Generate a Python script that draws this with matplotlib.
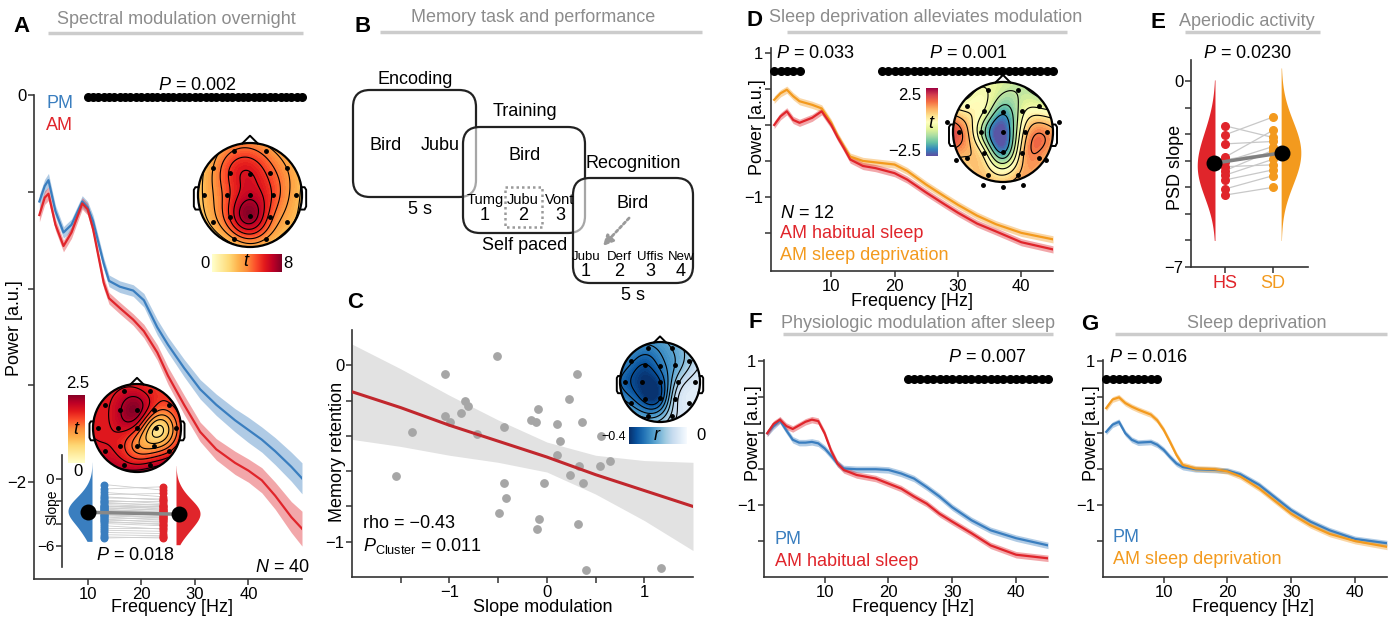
import numpy as np
import matplotlib
matplotlib.use('Agg')
import matplotlib.pyplot as plt
from matplotlib.patches import Circle, FancyBboxPatch, Rectangle

plt.rcParams['font.family'] = ['Liberation Sans', 'DejaVu Sans']
plt.rcParams['mathtext.fontset'] = 'custom'
plt.rcParams['mathtext.rm'] = 'Liberation Sans'
plt.rcParams['mathtext.it'] = 'Liberation Sans:italic'
plt.rcParams['contour.negative_linestyle'] = 'solid'

BLUE = '#3a7ebf'
RED = '#e0252b'
ORANGE = '#f39a1e'
GREY_T = '#8c8c8c'

# ---- data: panel A (PSD overnight, N = 40)
A_freq = [1, 2, 2.7, 4, 5.5, 7, 9, 10, 11, 12, 13, 14, 16, 18.5, 20.5, 23, 25, 28, 31, 34, 37.5, 40, 42.5, 45, 48, 50]
A_pm = [-0.55, -0.47, -0.44, -0.60, -0.71, -0.67, -0.55, -0.58, -0.65, -0.76, -0.87, -0.96, -0.99, -1.01, -1.06,
        -1.20, -1.29, -1.41, -1.52, -1.60, -1.68, -1.73, -1.78, -1.84, -1.92, -1.98]
A_am = [-0.62, -0.53, -0.51, -0.67, -0.78, -0.71, -0.56, -0.59, -0.69, -0.83, -0.97, -1.05, -1.10, -1.16, -1.22,
        -1.33, -1.45, -1.60, -1.74, -1.83, -1.90, -1.94, -1.99, -2.07, -2.18, -2.24]
A_pm_se = [0.035, 0.035, 0.035, 0.03, 0.03, 0.03, 0.03, 0.03, 0.03, 0.03, 0.03, 0.03, 0.03, 0.03, 0.035,
           0.04, 0.04, 0.045, 0.05, 0.055, 0.06, 0.065, 0.065, 0.07, 0.075, 0.08]
A_am_se = [0.035, 0.035, 0.035, 0.03, 0.03, 0.03, 0.03, 0.03, 0.03, 0.03, 0.03, 0.03, 0.03, 0.03, 0.035,
           0.04, 0.045, 0.05, 0.05, 0.055, 0.06, 0.06, 0.065, 0.07, 0.08, 0.09]
A_cluster = (10, 50)
A_slope_pm = [-0.5, -0.9, -1.2, -1.4, -1.6, -1.7, -1.9, -2.0, -2.1, -2.2, -2.3, -2.4, -2.4, -2.5, -2.6, -2.6,
              -2.7, -2.8, -2.8, -2.9, -3.0, -3.0, -3.1, -3.2, -3.2, -3.3, -3.4, -3.5, -3.6, -3.7, -3.8, -3.9,
              -4.0, -4.2, -4.4, -4.6, -4.8, -5.0, -5.2, -5.3]
A_slope_am = [-1.0, -0.7, -1.6, -1.3, -1.9, -1.8, -2.2, -2.0, -2.4, -2.3, -2.5, -2.4, -2.7, -2.6, -2.8, -2.8,
              -3.0, -2.9, -3.1, -3.0, -3.2, -3.3, -3.2, -3.5, -3.4, -3.5, -3.7, -3.6, -3.9, -3.8, -4.1, -4.0,
              -4.2, -4.5, -4.4, -4.7, -4.9, -5.1, -5.3, -5.2]

# ---- topography electrodes (unit head circle) and t / r values
EL_X = [-0.3, 0.3, -0.72, -0.38, 0, 0.38, 0.72, -0.88, -0.44, 0, 0.44, 0.88, -0.72, -0.38, 0, 0.38, 0.72, -0.3, 0.3]
EL_Y = [0.85, 0.85, 0.52, 0.42, 0.4, 0.42, 0.52, 0, 0, 0, 0, 0, -0.52, -0.42, -0.4, -0.42, -0.52, -0.85, -0.85]
topo_A1 = [4.5, 4.0, 3.5, 5.5, 6.3, 5.0, 3.5, 2.8, 5.0, 6.8, 5.2, 3.0, 3.0, 5.5, 7.8, 5.0, 3.0, 3.5, 3.5]
topo_A2 = [2.0, 1.8, 1.9, 2.2, 2.4, 1.6, 1.6, 1.9, 2.0, 1.7, 0.5, 1.3, 2.0, 1.8, 1.2, 1.0, 1.6, 2.1, 2.1]
topo_C = [-0.28, -0.22, -0.30, -0.36, -0.30, -0.22, -0.15, -0.33, -0.40, -0.36, -0.15, -0.06, -0.28, -0.38,
          -0.36, -0.12, -0.05, -0.24, -0.12]
topo_D = [-0.3, -0.8, 0.0, -0.3, -1.8, -0.5, -0.4, 1.6, -0.8, -2.6, 0.5, 1.2, 0.8, 0.0, -2.0, 0.6, 1.2, 0.6, 0.8]

# ---- panel C (retention vs slope modulation)
C_x = [-0.51, -1.05, 0.31, -0.84, -0.81, 0.23, -0.09, -1.05, -0.99, -0.88, -0.16, -0.11, 0.36, -0.44, 0.10,
       -1.38, -0.72, 0.14, 0.56, 0.10, 0.33, 0.55, 0.65, -1.55, 0.24, -0.44, -0.03, 0.37, -0.42, -0.49, -0.08,
       -0.10, 0.32, 0.40, 1.17]
C_y = [0.05, -0.05, -0.05, -0.20, -0.23, -0.19, -0.25, -0.29, -0.32, -0.27, -0.31, -0.32, -0.32, -0.35, -0.33,
       -0.38, -0.39, -0.43, -0.40, -0.51, -0.57, -0.57, -0.54, -0.63, -0.62, -0.67, -0.67, -0.67, -0.75, -0.84,
       -0.87, -0.93, -0.90, -1.16, -1.15]
C_fit_x = [-2.0, -1.5, -1.0, -0.5, 0.0, 0.5, 1.0, 1.5]
C_fit_y = [-0.15, -0.24, -0.34, -0.43, -0.52, -0.62, -0.71, -0.80]
C_ci_hw = [0.27, 0.22, 0.17, 0.12, 0.085, 0.11, 0.17, 0.25]

# ---- panel D (AM habitual sleep vs AM sleep deprivation, N = 12)
D_freq = [1, 2, 3, 4, 5, 7, 8.5, 10, 11, 12, 13, 15, 17, 20, 22, 25, 28, 30, 33, 36, 40, 45]
D_sd = [0.35, 0.44, 0.49, 0.40, 0.33, 0.28, 0.23, 0.03, -0.15, -0.30, -0.44, -0.50, -0.52, -0.55, -0.64, -0.83,
        -1.00, -1.11, -1.26, -1.38, -1.50, -1.59]
D_hs = [0.0, 0.12, 0.19, 0.07, 0.03, 0.10, 0.19, 0.0, -0.17, -0.32, -0.48, -0.57, -0.60, -0.67, -0.76, -0.94,
        -1.11, -1.22, -1.37, -1.48, -1.63, -1.73]
D_se = 0.05
D_clusters = [(1, 5), (18, 45)]

# ---- panel E (PSD slope)
E_hs = [-1.68, -2.02, -2.36, -2.86, -2.95, -3.03, -3.22, -3.37, -3.54, -3.72, -4.06, -4.29]
E_sd = [-2.12, -1.35, -2.27, -1.85, -2.71, -2.46, -3.15, -2.60, -2.94, -3.34, -3.56, -4.00]

# ---- panel F (PM vs AM habitual sleep)
F_freq = [1, 2, 3, 4, 5, 6, 7, 8, 9, 10, 11, 12, 13, 15, 18, 20, 22, 24, 26, 28, 30, 33, 36, 40, 45]
F_pm = [0.0, 0.10, 0.18, 0.04, -0.09, -0.13, -0.13, -0.12, -0.14, -0.21, -0.31, -0.42, -0.49, -0.50, -0.50,
        -0.51, -0.56, -0.63, -0.75, -0.88, -1.03, -1.21, -1.35, -1.46, -1.56]
F_am = [0.0, 0.13, 0.19, 0.10, 0.06, 0.11, 0.16, 0.19, 0.17, 0.0, -0.24, -0.42, -0.51, -0.58, -0.63, -0.70,
        -0.77, -0.88, -0.98, -1.12, -1.23, -1.39, -1.56, -1.69, -1.74]
F_se = 0.045
F_clusters = [(23, 45)]

# ---- panel G (PM vs AM sleep deprivation)
G_freq = [1, 2, 3, 4, 5, 6, 8, 9, 10, 11, 12, 13, 15, 18, 20, 22, 25, 28, 30, 33, 36, 40, 45]
G_sd = [0.35, 0.47, 0.50, 0.42, 0.37, 0.33, 0.26, 0.18, 0.05, -0.12, -0.30, -0.44, -0.49, -0.50, -0.53, -0.60,
        -0.77, -0.98, -1.12, -1.28, -1.40, -1.50, -1.58]
G_pm = [0.02, 0.12, 0.16, 0.0, -0.09, -0.13, -0.12, -0.16, -0.23, -0.33, -0.42, -0.47, -0.50, -0.51, -0.52,
        -0.57, -0.72, -0.93, -1.07, -1.23, -1.35, -1.47, -1.53]
G_se = 0.04
G_clusters = [(1, 9)]

W, H = 1393, 617
fig = plt.figure(figsize=(W / 100, H / 100), dpi=100)


def px_ax(x0, y0, x1, y1):
    return fig.add_axes([x0 / W, 1 - y1 / H, (x1 - x0) / W, (y1 - y0) / H])


def style(ax, size=12):
    for s in ['top', 'right']:
        ax.spines[s].set_visible(False)
    for s in ['left', 'bottom']:
        ax.spines[s].set_linewidth(1.2)
        ax.spines[s].set_color('#333333')
    ax.tick_params(direction='out', length=4, width=1.1, labelsize=size, color='#333333', pad=1.5)
    ax.patch.set_alpha(0)


def curve(ax, f, m, se, color):
    f, m, se = np.asarray(f), np.asarray(m), np.asarray(se)
    ax.fill_between(f, m - se, m + se, color=color, alpha=0.4, lw=0)
    ax.plot(f, m, color=color, lw=1.6)


def sig_dots(ax, clusters, y):
    for a, b in clusters:
        fr = np.arange(a, b + 0.01, 1.0)
        ax.scatter(fr, np.full(len(fr), y), s=30, color='k', zorder=5, clip_on=False)


def half_violin(ax, vals, pos, width, side, color, lo, hi, bw):
    y = np.linspace(lo, hi, 200)
    v = np.asarray(vals)
    k = np.exp(-0.5 * ((y[:, None] - v[None, :]) / bw) ** 2).sum(1)
    k = k / k.max() * width
    if side < 0:
        ax.fill_betweenx(y, pos - k, pos, color=color, lw=0)
    else:
        ax.fill_betweenx(y, pos, pos + k, color=color, lw=0)


def topomap(cx, cy, r, vals, cmap, vmin, vmax, extra=None):
    s = r * 1.3
    ax = px_ax(cx - s, cy - s, cx + s, cy + s)
    ax.set_xlim(-1.3, 1.3)
    ax.set_ylim(-1.3, 1.3)
    ax.axis('off')
    ex, ey = np.asarray(EL_X), np.asarray(EL_Y)
    v = np.asarray(vals, float)
    m = v.mean()
    d = np.hypot(ex[:, None] - ex[None, :], ey[:, None] - ey[None, :])
    w = np.linalg.solve(np.sqrt(1 + (d / 0.5) ** 2), v - m)
    g = np.linspace(-1.02, 1.02, 121)
    gx, gy = np.meshgrid(g, g)
    dg = np.hypot(gx[..., None] - ex, gy[..., None] - ey)
    z = np.clip(np.sqrt(1 + (dg / 0.5) ** 2) @ w + m, vmin, vmax)
    circ = Circle((0, 0), 1, transform=ax.transData)
    cf = ax.contourf(gx, gy, z, levels=np.linspace(vmin, vmax, 41), cmap=cmap)
    cl = ax.contour(gx, gy, z, levels=np.linspace(vmin, vmax, 10)[1:-1], colors='k', linewidths=0.8,
                    linestyles='solid')
    cf.set_clip_path(circ)
    cl.set_clip_path(circ)
    ax.add_patch(Circle((0, 0), 1, fc='none', ec='k', lw=1.6))
    ax.plot([-0.15, 0, 0.15], [0.99, 1.14, 0.99], color='k', lw=1.4)
    for sx in (-1, 1):
        ax.plot(sx * np.array([0.99, 1.05, 1.08, 1.08, 1.05, 0.99]), [0.15, 0.15, 0.1, -0.22, -0.28, -0.28],
                color='k', lw=1.4)
    ax.plot(ex, ey, 'k.', ms=5)
    if extra is not None:
        ax.plot(extra[0], extra[1], 'k.', ms=5, clip_on=False)
    return ax


def cbar(x0, y0, x1, y1, cmap, vertical=False):
    cax = px_ax(x0, y0, x1, y1)
    grad = np.linspace(0, 1, 256)
    if vertical:
        cax.imshow(grad[:, None], aspect='auto', cmap=cmap, origin='lower')
    else:
        cax.imshow(grad[None, :], aspect='auto', cmap=cmap)
    cax.axis('off')


# ================= panel A
axA = px_ax(34, 95, 302, 579)
style(axA)
curve(axA, A_freq, A_pm, A_pm_se, BLUE)
curve(axA, A_freq, A_am, A_am_se, RED)
sig_dots(axA, [A_cluster], -0.01)
axA.set_xlim(0, 50)
axA.set_ylim(-2.5, 0)
axA.set_xticks([10, 20, 30, 40])
axA.set_yticks([0, -0.5, -1, -1.5, -2])
axA.set_yticklabels(['0', '', '', '', '\u22122'])

topomap(250, 195, 52, topo_A1, 'YlOrRd', 0, 8)
cbar(212, 254, 282, 272, 'YlOrRd')
topomap(137, 428, 44, topo_A2, 'YlOrRd', 0, 2.5)
cbar(68, 395, 85, 463, 'YlOrRd', vertical=True)

axR = px_ax(62, 455, 205, 567)
style(axR, 11)
axR.spines['bottom'].set_visible(False)
axR.set_xticks([])
half_violin(axR, A_slope_pm, 92, 24, -1, BLUE, -5.6, 1.5, 0.8)
half_violin(axR, A_slope_am, 176, 24, 1, RED, -5.9, 1.2, 0.8)
for a, b in zip(A_slope_pm, A_slope_am):
    axR.plot([104, 163], [a, b], color='#cdcdcd', lw=0.6, zorder=1)
axR.scatter(np.full(len(A_slope_pm), 104), A_slope_pm, s=22, color=BLUE, zorder=3)
axR.scatter(np.full(len(A_slope_am), 163), A_slope_am, s=22, color=RED, zorder=3)
mp, ma = np.mean(A_slope_pm), np.mean(A_slope_am)
axR.plot([88, 179], [mp, ma], color='#888888', lw=2.5, zorder=4)
axR.scatter([88, 179], [mp, ma], s=110, color='k', zorder=5)
axR.set_xlim(62, 205)
axR.set_ylim(-7.9, 2.15)
axR.set_yticks([0, -2, -4, -6])
axR.set_yticklabels(['0', '', '', '\u22126'])

# ================= panel C
axC = px_ax(352, 330, 693, 577)
style(axC)
fx = np.asarray(C_fit_x)
fy = np.asarray(C_fit_y)
hw = np.asarray(C_ci_hw)
axC.fill_between(fx, fy - hw, fy + hw, color='#e2e2e2', lw=0)
axC.scatter(C_x, C_y, s=28, color='#a6a6a6', zorder=3, clip_on=False)
axC.plot(fx, fy, color='#c1272d', lw=2.2, zorder=4)
axC.set_xlim(-2, 1.5)
axC.set_ylim(-1.2, 0.2)
axC.set_xticks([-1.5, -1, -0.5, 0, 0.5, 1])
axC.set_xticklabels(['', '\u22121', '', '0', '', '1'])
axC.set_yticks([0, -0.2, -0.4, -0.6, -0.8, -1.0])
axC.set_yticklabels(['0', '', '', '', '', '\u22121'])
topomap(660, 382, 40, topo_C, 'Blues_r', -0.4, 0)
cbar(629, 427, 687, 444, 'Blues_r')

# ================= panels D, F, G
axD = px_ax(771, 48, 1053, 271)
axF = px_ax(764, 360, 1048, 577)
axG = px_ax(1103, 360, 1387, 577)
for ax in (axD, axF, axG):
    style(ax)
    ax.set_xlim(0.5, 45)
    ax.set_xticks([10, 20, 30, 40])
    ax.set_yticks([1, 0.5, 0, -0.5, -1, -1.5])
    ax.set_yticklabels(['1', '', '', '', '\u22121', ''])
axD.set_ylim(-2.03, 1.07)
axF.set_ylim(-2.0, 1.02)
axG.set_ylim(-2.0, 1.02)

curve(axD, D_freq, D_sd, D_se, ORANGE)
curve(axD, D_freq, D_hs, D_se, RED)
sig_dots(axD, D_clusters, 0.75)
curve(axF, F_freq, F_pm, F_se, BLUE)
curve(axF, F_freq, F_am, F_se, RED)
sig_dots(axF, F_clusters, 0.75)
curve(axG, G_freq, G_pm, G_se, BLUE)
curve(axG, G_freq, G_sd, G_se, ORANGE)
sig_dots(axG, G_clusters, 0.75)

topomap(1003, 132, 50, topo_D, 'Spectral_r', -2.5, 2.5,
        extra=([-1.12, 1.12, -0.95, 0.85, -0.4, 0.0, 0.4], [0.2, 0.2, -0.55, -0.55, -1.05, -1.1, -1.05]))
cbar(926, 88, 938, 156, 'Spectral_r', vertical=True)

# ================= panel E
axE = px_ax(1191, 60, 1308, 267)
style(axE)
half_violin(axE, E_hs, 0.79, 0.37, -1, RED, -6.0, 0.05, 0.9)
half_violin(axE, E_sd, 2.17, 0.41, 1, ORANGE, -6.0, 0.5, 0.9)
for a, b in zip(E_hs, E_sd):
    axE.plot([1, 2], [a, b], color='#c8c8c8', lw=0.9, zorder=1)
axE.scatter(np.ones(len(E_hs)), E_hs, s=30, color=RED, zorder=3)
axE.scatter(np.full(len(E_sd), 2), E_sd, s=30, color=ORANGE, zorder=3)
mh, ms_ = np.mean(E_hs), np.mean(E_sd)
axE.plot([0.77, 2.19], [mh, ms_], color='#808080', lw=2.5, zorder=4)
axE.scatter([0.77, 2.19], [mh, ms_], s=110, color='k', zorder=5)
axE.set_xlim(0.29, 2.73)
axE.set_ylim(-7, 0.8)
axE.set_yticks(range(0, -8, -1))
axE.set_yticklabels(['0', '', '', '', '', '', '', '\u22127'])
axE.set_xticks([1, 2])
axE.set_xticklabels(['HS', 'SD'], fontsize=13)
for lbl, c in zip(axE.get_xticklabels(), [RED, ORANGE]):
    lbl.set_color(c)

# ================= overlay: titles, texts, panel B schematic
ov = px_ax(0, 0, W, H)
ov.set_xlim(0, W)
ov.set_ylim(H, 0)
ov.axis('off')


def T(x, y, s, size=12, ha='center', va='center', **kw):
    ov.text(x, y, s, fontsize=size, ha=ha, va=va, **kw)


for letter, lx, ly, title, tx, ty, x0, x1, yl in [
        ('A', 22, 27, 'Spectral modulation overnight', 176, 20, 48, 303, 33),
        ('B', 363, 27, 'Memory task and performance', 533, 18, 380, 702, 32),
        ('D', 755, 20, 'Sleep deprivation alleviates modulation', 926, 18, 787, 1067, 32),
        ('E', 1158, 22, 'Aperiodic activity', 1247, 21, 1185, 1320, 32),
        ('F', 755, 323, 'Physiologic modulation after sleep', 918, 323, 783, 1053, 334),
        ('G', 1090, 325, 'Sleep deprivation', 1257, 323, 1115, 1387, 334)]:
    T(lx, ly, letter, 16, fontweight='bold')
    T(tx, ty, title, 13, color=GREY_T)
    ov.plot([x0, x1], [yl, yl], color='#cccccc', lw=2.5, solid_capstyle='butt')
T(355, 302, 'C', 16, fontweight='bold')

# panel A texts
T(197, 85, r'$P$ = 0.002', 13)
T(46, 103, 'PM', 13, ha='left', color=BLUE)
T(46, 125, 'AM', 13, ha='left', color=RED)
T(282, 568, r'$N$ = 40', 13)
T(205, 263, '0', 12)
T(288, 263, '8', 12)
T(247, 262, r'$t$', 13)
T(78, 384, '2.5', 12)
T(78, 471, '0', 12)
T(77, 430, r'$t$', 13)
T(52, 507, 'Slope', 10, rotation=90)
T(135, 555, r'$P$ = 0.018', 13)
T(172, 608, 'Frequency [Hz]', 13)
T(15, 328, 'Power [a.u.]', 13, rotation=90)

# panel B schematic
for (bx, by, bw_, bh) in [(353, 90, 123, 107), (463, 127, 122, 106), (573, 178, 120, 105)]:
    ov.add_patch(FancyBboxPatch((bx, by), bw_, bh, boxstyle='round,pad=0,rounding_size=17',
                                fc=(1, 1, 1, 0.6), ec='#222222', lw=1.6))
ov.add_patch(Rectangle((505, 187), 37, 40, fc='none', ec='#9a9a9a', lw=1.8, ls=(0, (1, 1.2))))
ov.annotate('', xy=(601, 248), xytext=(631, 216),
            arrowprops=dict(arrowstyle='-|>,head_width=0.3,head_length=0.6', color='#9a9a9a', lw=2,
                            linestyle=(0, (1, 1))))
T(415, 79, 'Encoding', 13)
T(386, 145, 'Bird', 13)
T(440, 145, 'Jubu', 13)
T(420, 210, '5 s', 13)
T(525, 112, 'Training', 13)
T(525, 155, 'Bird', 13)
for wx, word, num in [(485, 'Tumg', '1'), (523, 'Jubu', '2'), (560, 'Vont', '3')]:
    T(wx, 200, word, 10.5)
    T(wx, 215, num, 13)
T(525, 245, 'Self paced', 13)
T(633, 163, 'Recognition', 13)
T(633, 203, 'Bird', 13)
for wx, word, num in [(586, 'Jubu', '1'), (619, 'Derf', '2'), (650, 'Uffis', '3'), (681, 'New', '4')]:
    T(wx, 257, word, 9.5)
    T(wx, 272, num, 13)
T(633, 296, '5 s', 13)

# panel C texts
T(363, 523, 'rho = \u22120.43', 13, ha='left')
T(363, 546, r'$P_{\mathrm{Cluster}}$ = 0.011', 13, ha='left')
T(626, 437, '\u22120.4', 9, ha='right')
T(696, 436, '0', 12, ha='left')
T(657, 436, r'$r$', 13)
T(543, 608, 'Slope modulation', 13)
T(338, 452, 'Memory retention', 13, rotation=90)

# panel D texts
T(815, 53, r'$P$ = 0.033', 13)
T(968, 53, r'$P$ = 0.001', 13)
T(780, 213, r'$N$ = 12', 13, ha='left')
T(780, 234, 'AM habitual sleep', 13, ha='left', color=RED)
T(780, 255, 'AM sleep deprivation', 13, ha='left', color=ORANGE)
T(921, 95, '2.5', 12, ha='right')
T(921, 152, '\u22122.5', 12, ha='right')
T(932, 123, r'$t$', 13)
T(758, 127, 'Power [a.u.]', 13, rotation=90)
T(912, 301, 'Frequency [Hz]', 13)

# panel E texts
T(1247, 53, r'$P$ = 0.0230', 13)
T(1176, 167, 'PSD slope', 13, rotation=90)

# panel F texts
T(987, 358, r'$P$ = 0.007', 13)
T(775, 540, 'PM', 13, ha='left', color=BLUE)
T(775, 561, 'AM habitual sleep', 13, ha='left', color=RED)
T(753, 433, 'Power [a.u.]', 13, rotation=90)
T(913, 607, 'Frequency [Hz]', 13)

# panel G texts
T(1148, 358, r'$P$ = 0.016', 13)
T(1113, 538, 'PM', 13, ha='left', color=BLUE)
T(1113, 560, 'AM sleep deprivation', 13, ha='left', color=ORANGE)
T(1092, 433, 'Power [a.u.]', 13, rotation=90)
T(1253, 607, 'Frequency [Hz]', 13)

fig.savefig('out.png', dpi=100)
